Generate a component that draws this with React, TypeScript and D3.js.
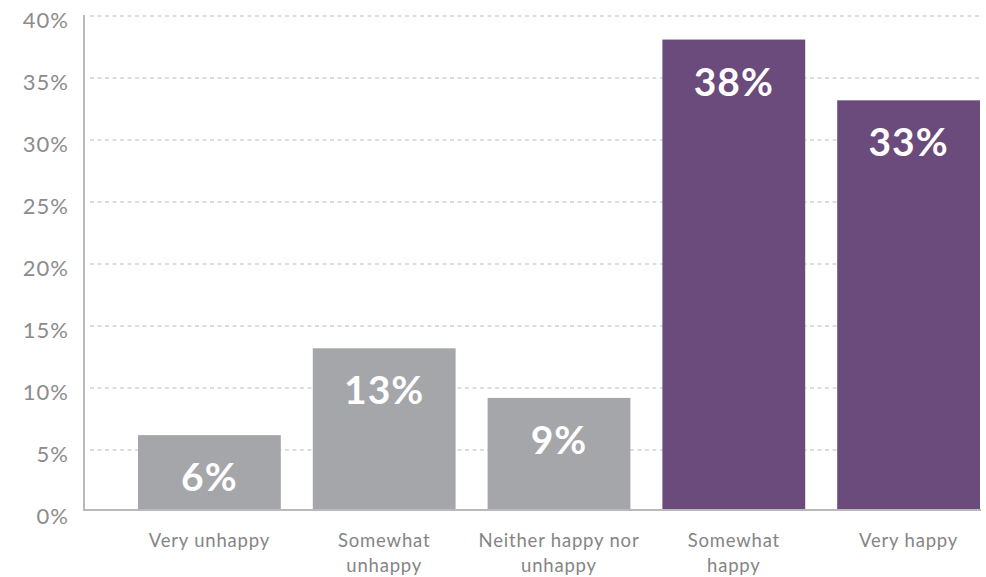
import React from "react";
import * as d3 from "d3";

const categories: string[][] = [
  ["Very unhappy"],
  ["Somewhat", "unhappy"],
  ["Neither happy nor", "unhappy"],
  ["Somewhat", "happy"],
  ["Very happy"],
];
const values: number[] = [6.2, 13.2, 9.2, 38.1, 33.2];
const valueLabels: string[] = ["6%", "13%", "9%", "38%", "33%"];
const colors: string[] = ["#a5a6a9", "#a5a6a9", "#a5a6a9", "#6b4a7c", "#6b4a7c"];
const yTicks: number[] = [0, 5, 10, 15, 20, 25, 30, 35, 40];

const W = 986;
const H = 577;
const FONT = "Lato, 'Open Sans', sans-serif";

export default function App() {
  const idx = categories.map((_, i) => String(i));
  const x = d3
    .scaleBand<string>()
    .domain(idx)
    .range([122, 996])
    .paddingInner(0.183)
    .paddingOuter(0.0915);
  const y = d3.scaleLinear().domain([0, 40]).range([512, 16]);
  const axisX = 84;
  const gridRight = 981;

  return (
    <svg
      width={W}
      height={H}
      style={{ position: "absolute", left: 0, top: 0, background: "#fff" }}
      fontFamily={FONT}
    >
      {yTicks.map((t) => (
        <g key={t}>
          {t > 0 && (
            <line
              x1={axisX + 6}
              x2={gridRight}
              y1={y(t)}
              y2={y(t)}
              stroke="#d2d2d2"
              strokeWidth={1.3}
              strokeDasharray="4 3.5"
            />
          )}
          <text
            x={69}
            y={y(t) + 6}
            textAnchor="end"
            dominantBaseline="middle"
            fontSize={22}
            letterSpacing={1}
            fill="#8c8c8c"
          >
            {t}%
          </text>
        </g>
      ))}
      {values.map((v, i) => {
        const bx = x(String(i))!;
        const bw = x.bandwidth();
        return (
          <g key={i}>
            <rect x={bx} y={y(v)} width={bw} height={y(0) - y(v) - 2} fill={colors[i]} />
            <text
              x={bx + bw / 2}
              y={y(v) + 46}
              textAnchor="middle"
              dominantBaseline="middle"
              fontSize={39}
              fontWeight={700}
              letterSpacing={1}
              fill="#ffffff"
            >
              {valueLabels[i]}
            </text>
            {categories[i].map((line, j) => (
              <text
                key={j}
                x={bx + bw / 2}
                y={542 + j * 25}
                textAnchor="middle"
                dominantBaseline="middle"
                fontSize={18.5}
                letterSpacing={0.8}
                fill="#858585"
              >
                {line}
              </text>
            ))}
          </g>
        );
      })}
      <line x1={axisX} x2={axisX} y1={15} y2={511} stroke="#b9b9b9" strokeWidth={2} />
      <line x1={axisX} x2={gridRight} y1={510} y2={510} stroke="#b9b9b9" strokeWidth={2} />
    </svg>
  );
}
